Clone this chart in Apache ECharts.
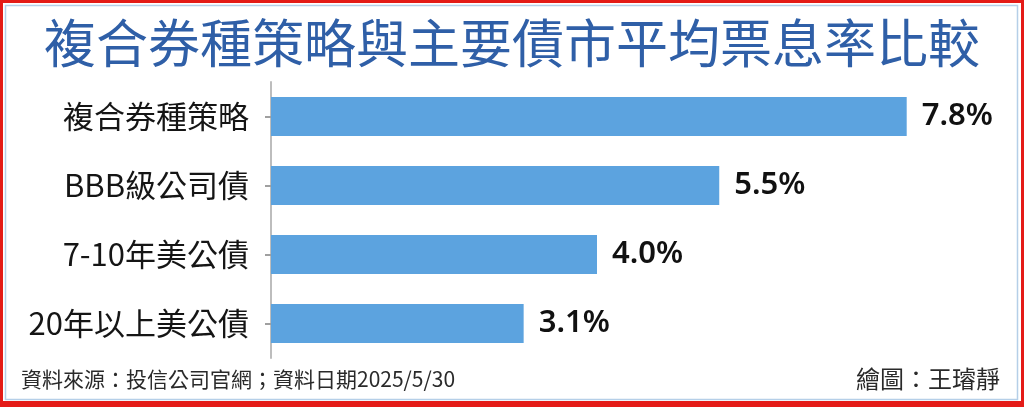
<!DOCTYPE html>
<html>
<head>
<meta charset="utf-8">
<script src="https://cdn.jsdelivr.net/npm/echarts@6/dist/echarts.min.js"></script>
<style>
html,body{margin:0;padding:0;background:#fff;}
#c{width:1024px;height:407px;}
</style>
</head>
<body>
<div id="c"></div>
<script>
const titleText = '複合券種策略與主要債市平均票息率比較';
const categories = ['複合券種策略', 'BBB級公司債', '7-10年美公債', '20年以上美公債'];
const values = [7.8, 5.5, 4.0, 3.1];
const sourceText = '資料來源：投信公司官網；資料日期2025/5/30';
const creditText = '繪圖：王璿靜';

const cjk = '"Noto Sans CJK TC","Noto Sans CJK SC",sans-serif';
const chart = echarts.init(document.getElementById('c'), null, {renderer: 'canvas'});
chart.setOption({
  backgroundColor: '#ffffff',
  animation: false,
  title: [
    {text: titleText, left: 'center', top: 17, padding: 0,
     textStyle: {fontFamily: cjk, fontSize: 52, fontWeight: 'normal', color: '#2F5FA7'}},
    {text: sourceText, left: 21, top: 369, padding: 0,
     textStyle: {fontFamily: cjk, fontSize: 21, fontWeight: 'normal', color: '#2a2a2a'}},
    {text: creditText, right: 24, top: 367, padding: 0,
     textStyle: {fontFamily: cjk, fontSize: 24, fontWeight: 'normal', color: '#2a2a2a'}}
  ],
  grid: {left: 271, right: 19.5, top: 82, bottom: 49, containLabel: false},
  xAxis: {type: 'value', min: 0, max: 9, show: false},
  yAxis: {
    type: 'category', data: categories, inverse: true,
    axisLine: {show: true, lineStyle: {color: '#BDBDBD', width: 2}},
    axisTick: {show: true, alignWithLabel: true, length: 6, lineStyle: {color: '#A0A0A0', width: 2}},
    axisLabel: {margin: 22, fontFamily: cjk, fontSize: 31, color: '#151515'},
    splitLine: {show: false}
  },
  series: [{
    type: 'bar', data: values, barWidth: 39,
    itemStyle: {color: '#5CA3DF'},
    label: {show: true, position: 'right', distance: 15,
      formatter: p => p.value.toFixed(1) + '%',
      fontFamily: '"Noto Sans","Open Sans",sans-serif', fontSize: 31, fontWeight: 600, color: '#111'}
  }],
  graphic: [
    {type: 'rect', silent: true, z: 100, shape: {x: 1.5, y: 1.5, width: 1021, height: 402},
     style: {fill: null, stroke: '#E41B17', lineWidth: 3}},
    {type: 'rect', silent: true, z: 100, shape: {x: 0, y: 401, width: 1024, height: 6},
     style: {fill: '#E41B17'}},
    {type: 'rect', silent: true, z: 100, shape: {x: 5.5, y: 5.5, width: 1012, height: 394},
     style: {fill: null, stroke: '#B5CFE8', lineWidth: 1.5}}
  ]
});
</script>
</body>
</html>
